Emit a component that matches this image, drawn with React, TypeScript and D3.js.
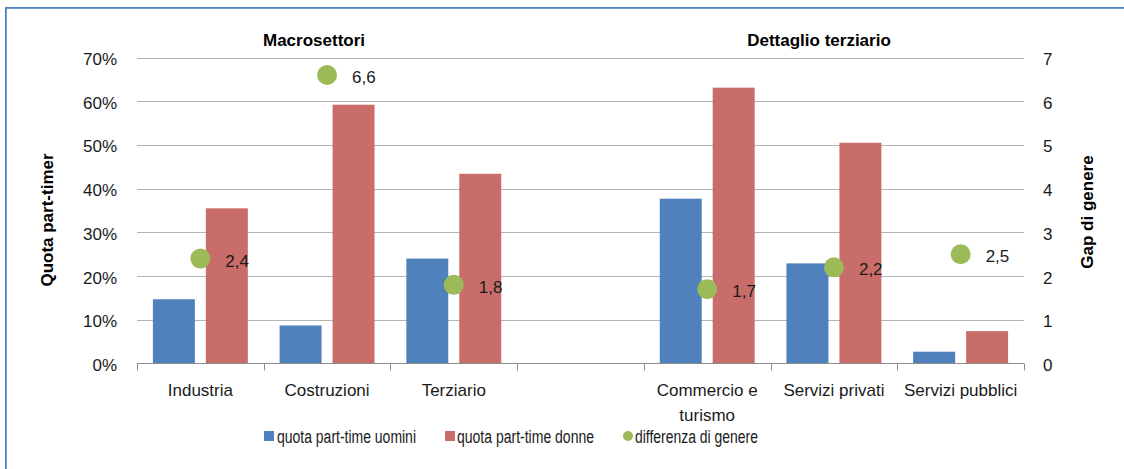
import React from "react";
import { scaleBand, scaleLinear, range } from "d3";

const categories = ["Industria", "Costruzioni", "Terziario", "", "Commercio e turismo", "Servizi privati", "Servizi pubblici"];
const categoryLines = [["Industria"], ["Costruzioni"], ["Terziario"], [], ["Commercio e", "turismo"], ["Servizi privati"], ["Servizi pubblici"]];
const uomini = [0.147, 0.087, 0.24, null, 0.377, 0.229, 0.027];
const donne = [0.355, 0.592, 0.434, null, 0.631, 0.505, 0.074];
const gap = [2.4, 6.6, 1.8, null, 1.7, 2.2, 2.5];
const gapLabels = ["2,4", "6,6", "1,8", "", "1,7", "2,2", "2,5"];
const leftTicks = [0, 0.1, 0.2, 0.3, 0.4, 0.5, 0.6, 0.7];
const rightTicks = [0, 1, 2, 3, 4, 5, 6, 7];
const seriesNames = ["quota part-time uomini", "quota part-time donne", "differenza di genere"];
const groupTitles = ["Macrosettori", "Dettaglio terziario"];

const BLUE = "#4F81BD";
const RED = "#C96D6A";
const GREEN = "#9BBB59";
const FONT = "'Liberation Sans', Arial, sans-serif";

export default function App() {
  const width = 1124;
  const height = 469;
  const left = 137;
  const right = 1024;
  const top = 57.5;
  const bottom = 363.5;

  const x = scaleBand<string>().domain(categories.map((c, i) => i + ":" + c)).range([left, right]);
  const inner = scaleBand<string>().domain(["u", "d"]).range([0, x.bandwidth()]).paddingInner(0.2075).paddingOuter(0.3);
  const y = scaleLinear().domain([0, 0.7]).range([bottom, top]);
  const y2 = scaleLinear().domain([0, 7]).range([bottom, top]);
  const keys = x.domain();

  // legend entries: marker x, text x, text width (condensed look)
  const legend = [
    { name: seriesNames[0], mx: 264, tx: 277, w: 139, color: BLUE, dot: false },
    { name: seriesNames[1], mx: 445, tx: 457, w: 137, color: RED, dot: false },
    { name: seriesNames[2], mx: 623, tx: 635, w: 123, color: GREEN, dot: true },
  ];

  return (
    <svg width={width} height={height} style={{ position: "absolute", left: 0, top: 0, background: "white", display: "block" }}>
      {/* frame */}
      <rect x={0} y={0} width={width} height={height} fill="white" />
      <rect x={5} y={7} width={width - 5} height={1.8} fill={BLUE} />
      <rect x={5} y={7} width={1.8} height={height - 7} fill={BLUE} />

      {/* gridlines */}
      {leftTicks.slice(1).map((t) => (
        <line key={t} x1={left} x2={right} y1={Math.round(y(t)) + 0.5} y2={Math.round(y(t)) + 0.5} stroke="#B4B4B4" strokeWidth={1} />
      ))}

      {/* bars */}
      {keys.map((k, i) => (
        <g key={k} transform={`translate(${x(k)},0)`}>
          {uomini[i] != null && (
            <rect x={inner("u")} y={y(uomini[i] as number)} width={inner.bandwidth()} height={bottom - y(uomini[i] as number)} fill={BLUE} />
          )}
          {donne[i] != null && (
            <rect x={inner("d")} y={y(donne[i] as number)} width={inner.bandwidth()} height={bottom - y(donne[i] as number)} fill={RED} />
          )}
        </g>
      ))}

      {/* x axis */}
      <line x1={left} x2={right} y1={bottom} y2={bottom} stroke="#8C8C8C" strokeWidth={1} />
      {range(keys.length + 1).map((i) => {
        const tx = Math.round(left + i * x.step()) + 0.5;
        return <line key={i} x1={tx} x2={tx} y1={bottom} y2={bottom + 7} stroke="#8C8C8C" strokeWidth={1} />;
      })}
      {keys.map((k, i) =>
        categoryLines[i].map((ln, j) => (
          <text key={k + j} x={(x(k) as number) + x.bandwidth() / 2} y={396 + j * 25} textAnchor="middle" fontFamily={FONT} fontSize={17} fill="#1a1a1a">
            {ln}
          </text>
        ))
      )}

      {/* left axis */}
      {leftTicks.map((t) => (
        <text key={t} x={117} y={y(t) + 7.5} textAnchor="end" fontFamily={FONT} fontSize={17} fill="#1a1a1a">
          {Math.round(t * 100) + "%"}
        </text>
      ))}
      <text transform={`translate(53,220) rotate(-90)`} textAnchor="middle" fontFamily={FONT} fontSize={17} fontWeight="bold" fill="#000">
        Quota part-timer
      </text>

      {/* right axis */}
      {rightTicks.map((t) => (
        <text key={t} x={1043} y={y2(t) + 7.5} textAnchor="start" fontFamily={FONT} fontSize={17} fill="#1a1a1a">
          {t}
        </text>
      ))}
      <text transform={`translate(1093,212) rotate(-90)`} textAnchor="middle" fontFamily={FONT} fontSize={17} fontWeight="bold" fill="#000">
        Gap di genere
      </text>

      {/* group titles */}
      <text x={314} y={46} textAnchor="middle" fontFamily={FONT} fontSize={17} fontWeight="bold" fill="#000">
        {groupTitles[0]}
      </text>
      <text x={819} y={46} textAnchor="middle" fontFamily={FONT} fontSize={17} fontWeight="bold" fill="#000">
        {groupTitles[1]}
      </text>

      {/* gap dots */}
      {keys.map((k, i) => {
        if (gap[i] == null) return null;
        const cx = (x(k) as number) + x.bandwidth() / 2;
        const cy = y2(gap[i] as number);
        return (
          <g key={k}>
            <circle cx={cx} cy={cy} r={10} fill={GREEN} />
            <text x={cx + 25} y={cy + 8} fontFamily={FONT} fontSize={17} fill="#1a1a1a">
              {gapLabels[i]}
            </text>
          </g>
        );
      })}

      {/* legend */}
      {legend.map((d) => (
        <g key={d.name}>
          {d.dot ? (
            <circle cx={d.mx + 5} cy={436} r={5} fill={d.color} />
          ) : (
            <rect x={d.mx} y={431} width={10} height={10} fill={d.color} />
          )}
          <text x={d.tx} y={442.5} fontFamily={FONT} fontSize={18} textLength={d.w} lengthAdjust="spacingAndGlyphs" fill="#1a1a1a">
            {d.name}
          </text>
        </g>
      ))}
    </svg>
  );
}
